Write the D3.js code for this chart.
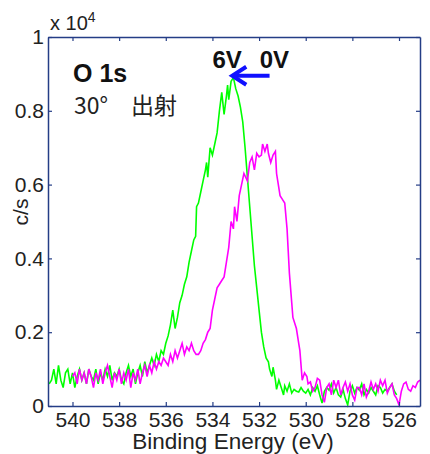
<!DOCTYPE html>
<html>
<head>
<meta charset="utf-8">
<script src="https://cdn.jsdelivr.net/npm/d3@7"></script>
<style>
  body { margin: 0; background: #fff; }
  text { font-family: "Liberation Sans", Arial, sans-serif; }
</style>
</head>
<body>
<div id="chart"></div>
<script>
// O 1s spectra, intensity in units of 10^4 c/s
const energy6V = [541.0,540.9,540.8,540.7,540.6,540.5,540.4,540.3,540.2,540.1,540.0,539.9,539.8,539.7,539.6,539.5,539.4,539.3,539.2,539.1,539.0,538.9,538.8,538.7,538.6,538.5,538.4,538.3,538.2,538.1,538.0,537.9,537.8,537.7,537.6,537.5,537.4,537.3,537.2,537.1,537.0,536.9,536.8,536.7,536.6,536.5,536.4,536.3,536.2,536.1,536.0,535.9,535.8,535.7,535.6,535.5,535.4,535.3,535.2,535.1,535.0,534.9,534.8,534.72,534.68,534.6,534.5,534.4,534.3,534.25,534.2,534.1,534.0,533.9,533.8,533.7,533.6,533.5,533.4,533.35,533.3,533.2,533.1,533.0,532.9,532.8,532.7,532.6,532.5,532.4,532.3,532.2,532.1,532.0,531.9,531.8,531.7,531.6,531.55,531.45,531.4,531.3,531.25,531.15,531.05,530.95,530.9,530.8,530.7,530.6,530.5,530.4,530.3,530.2,530.1,530.0,529.9,529.8,529.7,529.6,529.5,529.4,529.3,529.2,529.1,529.0,528.9,528.8,528.7,528.6,528.5,528.4,528.3,528.2,528.1,528.0,527.9,527.8,527.7,527.6,527.5,527.4,527.3,527.2,527.1,527.0,526.9,526.8,526.7,526.6,526.5,526.4,526.3,526.2,526.1];
const counts6V = [0.06,0.07,0.10,0.06,0.11,0.07,0.05,0.09,0.10,0.06,0.09,0.05,0.08,0.10,0.07,0.09,0.06,0.10,0.08,0.07,0.10,0.06,0.09,0.07,0.10,0.08,0.11,0.07,0.09,0.08,0.10,0.07,0.06,0.09,0.11,0.08,0.10,0.06,0.09,0.11,0.08,0.12,0.09,0.11,0.13,0.11,0.14,0.12,0.15,0.14,0.17,0.19,0.22,0.26,0.21,0.24,0.28,0.30,0.33,0.35,0.39,0.42,0.45,0.46,0.54,0.55,0.58,0.61,0.64,0.66,0.62,0.70,0.68,0.71,0.74,0.80,0.85,0.79,0.84,0.87,0.83,0.88,0.89,0.86,0.84,0.81,0.77,0.70,0.62,0.54,0.46,0.38,0.32,0.26,0.20,0.16,0.13,0.12,0.10,0.08,0.105,0.07,0.045,0.07,0.05,0.03,0.055,0.04,0.06,0.035,0.045,0.04,0.038,0.05,0.04,0.035,0.045,0.03,0.05,0.04,0.055,0.03,0.008,0.04,0.05,0.043,0.06,0.035,0.05,0.03,0.024,0.045,0.02,0.003,0.04,0.055,0.035,0.05,0.043,0.06,0.03,0.045,0.035,0.05,0.04,0.03,0.055,0.05,0.035,0.045,0.04,0.05,0.06,0.04,0.03];

const energy0V = [540.0,539.9,539.8,539.7,539.6,539.5,539.4,539.3,539.2,539.1,539.0,538.9,538.8,538.7,538.6,538.5,538.4,538.3,538.2,538.1,538.0,537.9,537.8,537.7,537.6,537.5,537.4,537.3,537.2,537.1,537.0,536.9,536.8,536.7,536.6,536.5,536.4,536.3,536.2,536.1,536.0,535.9,535.8,535.7,535.6,535.5,535.4,535.3,535.2,535.1,535.0,534.9,534.8,534.7,534.6,534.5,534.4,534.3,534.2,534.1,534.0,533.9,533.8,533.7,533.6,533.5,533.4,533.3,533.2,533.1,533.05,532.95,532.85,532.75,532.65,532.5,532.4,532.3,532.2,532.1,532.0,531.9,531.85,531.75,531.65,531.6,531.5,531.4,531.3,531.25,531.2,531.1,531.0,530.9,530.8,530.75,530.7,530.6,530.55,530.4,530.3,530.25,530.15,530.05,529.95,529.9,529.8,529.7,529.6,529.5,529.4,529.3,529.2,529.1,529.0,528.9,528.8,528.7,528.6,528.5,528.4,528.3,528.2,528.1,528.0,527.9,527.8,527.7,527.6,527.5,527.4,527.3,527.2,527.1,527.0,526.9,526.8,526.7,526.6,526.5,526.4,526.3,526.2,526.1,526.0,525.9,525.8,525.7,525.6,525.5,525.4,525.3,525.2,525.1];
const counts0V = [0.08,0.09,0.06,0.10,0.07,0.09,0.06,0.10,0.08,0.05,0.09,0.07,0.10,0.06,0.09,0.11,0.08,0.05,0.09,0.07,0.10,0.06,0.09,0.07,0.10,0.05,0.09,0.07,0.10,0.06,0.09,0.11,0.08,0.11,0.09,0.12,0.10,0.12,0.11,0.13,0.12,0.11,0.14,0.12,0.15,0.13,0.15,0.17,0.14,0.16,0.15,0.17,0.15,0.14,0.14,0.15,0.17,0.18,0.20,0.21,0.26,0.29,0.32,0.33,0.34,0.35,0.39,0.43,0.50,0.48,0.54,0.50,0.57,0.60,0.63,0.61,0.66,0.675,0.64,0.685,0.675,0.68,0.71,0.69,0.71,0.685,0.66,0.68,0.69,0.63,0.61,0.57,0.56,0.55,0.48,0.42,0.36,0.28,0.24,0.21,0.17,0.15,0.07,0.09,0.08,0.06,0.065,0.04,0.05,0.075,0.07,0.03,0.01,0.05,0.06,0.03,0.07,0.05,0.07,0.03,0.05,0.065,0.04,0.06,0.03,0.016,0.05,0.05,0.03,0.06,0.024,0.04,0.065,0.045,0.06,0.04,0.07,0.055,0.07,0.035,0.05,0.06,0.03,0.02,0.003,0.04,0.06,0.065,0.045,0.04,0.055,0.05,0.065,0.07];

const xTicks = [540, 538, 536, 534, 532, 530, 528, 526];
const yTicks = [0, 0.2, 0.4, 0.6, 0.8, 1];

const margin = { top: 37, right: 10, bottom: 48, left: 48 },
      width = 430 - margin.left - margin.right,
      height = 454 - margin.top - margin.bottom;

const axisColor = "#243d86";

const svg = d3.select("#chart")
    .append("svg")
    .attr("width", 430)
    .attr("height", 454)
  .append("g")
    .attr("transform", `translate(${margin.left},${margin.top})`);

const x = d3.scaleLinear()
    .domain([541.05, 525.1])
    .range([0, width]);

const y = d3.scaleLinear()
    .domain([0, 1])
    .range([height, 0]);

// curves
const line = d3.line()
    .x(d => x(d[0]))
    .y(d => y(d[1]));

svg.append("path")
    .datum(d3.zip(energy6V, counts6V))
    .attr("fill", "none")
    .attr("stroke", "#00ff00")
    .attr("stroke-width", 1.6)
    .attr("d", line);

svg.append("path")
    .datum(d3.zip(energy0V, counts0V))
    .attr("fill", "none")
    .attr("stroke", "#ff00ff")
    .attr("stroke-width", 1.6)
    .attr("d", line);

// axes, ticks point inward
function styleAxis(g) {
    g.select(".domain").attr("stroke", axisColor).attr("stroke-width", 1.5);
    g.selectAll(".tick line").attr("stroke", axisColor).attr("stroke-width", 1.2);
    g.selectAll(".tick text")
        .attr("fill", "#222")
        .style("font-size", "21px")
        .style("font-family", "Liberation Sans, Arial, sans-serif");
}

svg.append("g")
    .attr("transform", `translate(0,${height})`)
    .call(d3.axisBottom(x).tickValues(xTicks).tickSizeInner(-4).tickSizeOuter(0).tickPadding(6).tickFormat(d3.format("d")))
    .call(styleAxis);

svg.append("g")
    .call(d3.axisTop(x).tickValues(xTicks).tickSizeInner(-4).tickSizeOuter(0).tickFormat(""))
    .call(styleAxis);

svg.append("g")
    .call(d3.axisLeft(y).tickValues(yTicks).tickSizeInner(-4).tickSizeOuter(0).tickPadding(4).tickFormat(d => d === 0 || d === 1 ? d3.format("d")(d) : d3.format(".1f")(d)))
    .call(styleAxis);

svg.append("g")
    .attr("transform", `translate(${width},0)`)
    .call(d3.axisRight(y).tickValues(yTicks).tickSizeInner(-4).tickSizeOuter(0).tickFormat(""))
    .call(styleAxis);

// exponent label
const expo = svg.append("text")
    .attr("x", 2)
    .attr("y", -7)
    .attr("fill", "#222")
    .style("font-size", "20px");
expo.append("tspan").text("x 10");
expo.append("tspan").attr("dy", -8).style("font-size", "14px").text("4");

// axis labels
svg.append("text")
    .attr("text-anchor", "middle")
    .attr("transform", `translate(${width / 2 - 1},${height + 43})`)
    .attr("fill", "#222")
    .style("font-size", "22.5px")
    .text("Binding Energy (eV)");

svg.append("text")
    .attr("text-anchor", "middle")
    .attr("transform", `translate(${-20},${175}) rotate(-90)`)
    .attr("fill", "#222")
    .style("font-size", "21px")
    .text("c/s");

// annotations
svg.append("text")
    .attr("x", 25).attr("y", 45)
    .attr("fill", "#111")
    .style("font-size", "25px")
    .style("font-weight", "bold")
    .text("O 1s");

svg.append("text")
    .attr("x", 26).attr("y", 77)
    .attr("fill", "#222")
    .style("font-size", "23px")
    .style("font-family", "Noto Sans CJK JP, Liberation Sans, sans-serif")
    .text("30°　出射");

svg.append("text")
    .attr("x", x(534.0)).attr("y", 31)
    .attr("fill", "#111")
    .style("font-size", "24px")
    .style("font-weight", "bold")
    .text("6V");

svg.append("text")
    .attr("x", x(531.97)).attr("y", 31)
    .attr("fill", "#111")
    .style("font-size", "24px")
    .style("font-weight", "bold")
    .text("0V");

// arrow 0V -> 6V
const ay = y(0.895);
const tipX = x(533.15), tailX = x(531.55);
svg.append("line")
    .attr("x1", tailX).attr("y1", ay)
    .attr("x2", tipX + 3).attr("y2", ay)
    .attr("stroke", "#1010ff")
    .attr("stroke-width", 4);
svg.append("path")
    .attr("d", `M${tipX + 14},${ay - 9} L${tipX},${ay} L${tipX + 14},${ay + 9}`)
    .attr("fill", "none")
    .attr("stroke", "#1010ff")
    .attr("stroke-width", 4)
    .attr("stroke-linejoin", "miter");
</script>
</body>
</html>
